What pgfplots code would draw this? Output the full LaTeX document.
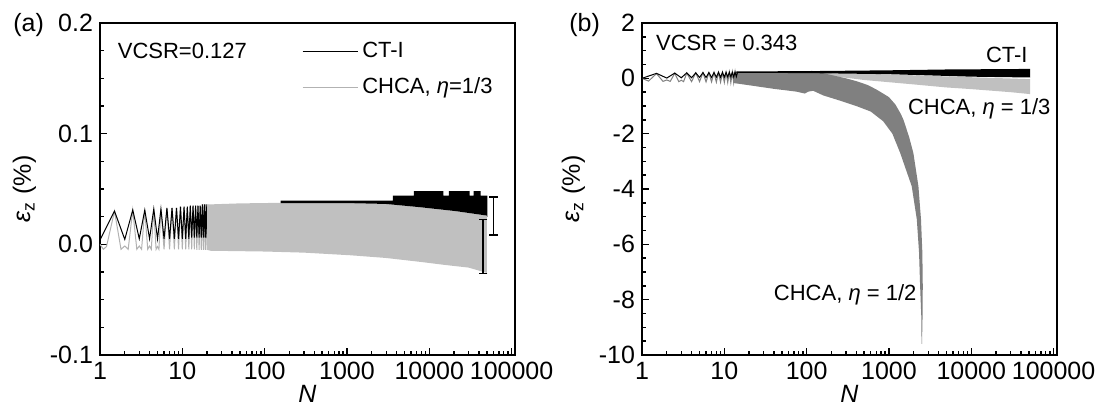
\documentclass[border=0pt]{standalone}
\usepackage{pgfplots}
\pgfplotsset{compat=1.18}
\usepackage{fontspec}
\setmainfont{Liberation Sans}
\definecolor{ltgray}{RGB}{192,192,192}
\definecolor{osgray}{RGB}{178,178,178}
\definecolor{dkgray}{RGB}{128,128,128}
\newcommand{\ft}{\fontsize{12.5}{14}\selectfont}
\newcommand{\fa}{\fontsize{11}{13}\selectfont}
\begin{document}
\begin{tikzpicture}
\path[use as bounding box] (-50pt,-31pt) rectangle (502pt,177.5pt);
\begin{axis}[
  scale only axis, width=207.5pt, height=166pt,
  xmode=log, xmin=1, xmax=110000,
  xtick={1,10,100,1000,10000,100000},
  xticklabels={1,10,100,1000,10000,100000},
  minor xtick={2,3,4,5,6,7,8,9,20,30,40,50,60,70,80,90,200,300,400,500,600,700,800,900,2000,3000,4000,5000,6000,7000,8000,9000,20000,30000,40000,50000,60000,70000,80000,90000},
  xtick pos=bottom, ytick pos=left,
  tick align=inside,
  axis line style={line width=1pt},
  major tick style={black, line width=0.7pt},
  minor tick style={black, line width=0.7pt},
  major tick length=3.5pt, minor tick length=2pt,
  tick label style={font=\ft},
  label style={font=\ft},
  xlabel={\textit{N}},
  ylabel={\textit{ε}\textsubscript{z} (\%)},
  xlabel style={yshift=4pt},
  minor y tick num=3,
  ymin=-0.1, ymax=0.2,
  ytick={-0.1,0,0.1,0.2}, yticklabels={-0.1,0.0,0.1,0.2},
  legend style={at={(0.486,0.955)}, anchor=north west, draw=none, fill=none,
    font=\fa, row sep=4.5pt, inner sep=0pt},
  legend cell align=left,
  legend image code/.code={\draw[#1] (0pt,0pt) -- (27.5pt,0pt);},
]
% grey oscillation line (CHCA eta=1/3)
\addplot[osgray, line width=0.5pt, forget plot] coordinates {
(1,0)(1.1,-0.0045)(1.2,-0.002)(1.5,0.030)(1.8,-0.0045)(2,-0.0015)(2.2,-0.0045)(2.5,0.031)(2.8,-0.0045)(3,-0.0015)(3.2,-0.0045)(3.5,0.031)(3.8,-0.0045)(4,-0.0015)(4.2,-0.0045)(4.5,0.032)(4.8,-0.0045)(5,-0.002)(5.2,-0.0045)(5.5,0.032)(6,-0.0045)(6.5,0.033)(7,-0.0045)(7.5,0.033)(8,-0.0045)(8.5,0.033)(9,-0.0045)(9.5,0.034)(10,-0.0045)(10.5,0.034)(11,-0.0045)(11.5,0.034)(12,-0.0045)(12.5,0.035)(13,-0.0045)(13.5,0.035)(14,-0.0045)(14.5,0.035)(15,-0.005)(15.5,0.035)(16,-0.005)(16.5,0.035)(17,-0.005)(17.5,0.036)(18,-0.005)(18.5,0.036)(19,-0.005)(19.5,0.036)(20,-0.005)(20.5,0.036)
};
% black oscillation line (CT-I)
\addplot[black, line width=0.5pt, forget plot] coordinates {
(1,0.004)(1.5,0.030)(2,0.0045)(2.5,0.031)(3,0.005)(3.5,0.031)(4,0.005)(4.5,0.032)(5,0.005)(5.5,0.032)(6,0.005)(6.5,0.033)(7,0.005)(7.5,0.033)(8,0.005)(8.5,0.033)(9,0.005)(9.5,0.034)(10,0.005)(10.5,0.034)(11,0.005)(11.5,0.034)(12,0.005)(12.5,0.035)(13,0.006)(13.5,0.035)(14,0.006)(14.5,0.035)(15,0.006)(15.5,0.035)(16,0.006)(16.5,0.035)(17,0.006)(17.5,0.036)(18,0.006)(18.5,0.036)(19,0.006)(19.5,0.036)(20,0.006)
};
% grey band (CHCA eta=1/3)
\addplot[fill=ltgray, draw=none, forget plot] coordinates {
(20,0.036)(50,0.037)(156,0.0375)(1110,0.0372)(2960,0.0365)(7880,0.0335)(21000,0.030)(50000,0.026)
(50000,-0.0258)(30000,-0.021)(15000,-0.0185)(7880,-0.0159)(2960,-0.0123)(1110,-0.0099)(300,-0.0075)(100,-0.0065)(22,-0.0058)(20,-0.005)
} -- cycle;
% black band (CT-I)
\addplot[fill=black, draw=none, forget plot] coordinates {
(156,0.0372)(156,0.0395)(3600,0.0395)(3600,0.044)(6500,0.044)(6500,0.048)(14800,0.048)(14800,0.044)(17300,0.044)(17300,0.048)(31000,0.048)(31000,0.044)(34500,0.044)(34500,0.048)(42000,0.048)(42000,0.044)(50800,0.044)(50800,0.0245)
(50000,0.026)(21000,0.030)(7880,0.0335)(2960,0.0365)(1110,0.0372)
} -- cycle;
% range bars
\addplot[black, line width=0.8pt, mark=-, mark size=2.2pt, forget plot]
  coordinates {(60000,0.0087)(60000,0.0428)};
\addplot[black, line width=0.8pt, mark=-, mark size=2.2pt, forget plot]
  coordinates {(45000,-0.0263)(45000,0.0225)};
\addlegendimage{black, line width=0.6pt}
\addlegendentry{CT-I}
\addlegendimage{osgray, line width=0.6pt}
\addlegendentry{CHCA, \textit{η}=1/3}
\node[anchor=west, font=\fa, inner sep=0pt] at (rel axis cs:0.042,0.915) {VCSR=0.127};
\end{axis}
\node[anchor=west, font=\ft, inner sep=0pt] at (-43.5pt,165pt) {(a)};
\node[anchor=west, font=\ft, inner sep=0pt] at (234.5pt,165pt) {(b)};
\begin{axis}[at={(271pt,0pt)},
  scale only axis, width=207.5pt, height=166pt,
  xmode=log, xmin=1, xmax=110000,
  xtick={1,10,100,1000,10000,100000},
  xticklabels={1,10,100,1000,10000,100000},
  minor xtick={2,3,4,5,6,7,8,9,20,30,40,50,60,70,80,90,200,300,400,500,600,700,800,900,2000,3000,4000,5000,6000,7000,8000,9000,20000,30000,40000,50000,60000,70000,80000,90000},
  xtick pos=bottom, ytick pos=left,
  tick align=inside,
  axis line style={line width=1pt},
  major tick style={black, line width=0.7pt},
  minor tick style={black, line width=0.7pt},
  major tick length=3.5pt, minor tick length=2pt,
  tick label style={font=\ft},
  label style={font=\ft},
  xlabel={\textit{N}},
  ylabel={\textit{ε}\textsubscript{z} (\%)},
  xlabel style={yshift=4pt},
  minor y tick num=3,
  ymin=-10, ymax=2,
  ytick={-10,-8,-6,-4,-2,0,2}, yticklabels={-10,-8,-6,-4,-2,0,2},
]
% light grey band (CHCA eta=1/3)
\addplot[fill=ltgray, draw=none] coordinates {
(100,0.19)(300,0.18)(1000,0.14)(5000,0.07)(10000,0.04)(52000,-0.03)
(52000,-0.57)(30000,-0.5)(10000,-0.39)(5000,-0.33)(2000,-0.22)(1000,-0.14)(500,-0.06)(250,0.05)(150,0.13)(100,0.18)
} -- cycle;
% dark grey oscillation line (CHCA eta=1/2)
\addplot[dkgray, line width=0.5pt] coordinates {
(1,0)(1.2,-0.1)(1.5,0.17)(1.8,-0.11)(2,-0.06)(2.2,-0.11)(2.5,0.18)(2.8,-0.12)(3,-0.07)(3.2,-0.12)(3.5,0.19)(4,-0.12)(4.5,0.2)(5,-0.12)(5.5,0.2)(6,-0.13)(6.5,0.2)(7,-0.13)(7.5,0.21)(8,-0.14)(8.5,0.21)(9,-0.14)(9.5,0.21)(10,-0.15)(10.5,0.21)(11,-0.15)(11.5,0.22)(12,-0.16)(12.5,0.22)(13,-0.16)(13.5,0.22)(14,-0.17)
};
% dark grey band (CHCA eta=1/2)
\addplot[fill=dkgray, draw=none] coordinates {
(13,0.22)(30,0.22)(60,0.21)(90,0.2)(115,0.27)(140,0.22)(200,0.12)(300,0.0)(400,-0.1)(550,-0.24)(700,-0.4)(850,-0.55)(1000,-0.68)(1200,-0.95)(1400,-1.3)(1500,-1.5)(1750,-2.1)(1980,-2.7)(2280,-3.9)(2450,-5.1)(2545,-6.3)(2575,-7.5)(2560,-8.6)(2520,-9.6)
(2490,-9.6)(2470,-8.6)(2390,-7.5)(2320,-6.3)(2180,-5.1)(1890,-3.9)(1370,-2.7)(1100,-2.0)(850,-1.55)(600,-1.2)(400,-1.0)(250,-0.8)(160,-0.62)(120,-0.45)(105,-0.48)(95,-0.55)(75,-0.48)(40,-0.38)(20,-0.25)(13,-0.17)
} -- cycle;
% black oscillation line (CT-I)
\addplot[black, line width=0.5pt] coordinates {
(1,0)(1.5,0.18)(2,0.01)(2.5,0.19)(3,0.02)(3.5,0.2)(4,0.02)(4.5,0.2)(5,0.03)(5.5,0.21)(6,0.03)(6.5,0.21)(7,0.03)(7.5,0.21)(8,0.04)(8.5,0.22)(9,0.04)(9.5,0.22)(10,0.04)(10.5,0.22)(11,0.05)(11.5,0.22)(12,0.05)(12.5,0.22)(13,0.05)(13.5,0.23)(14,0.06)(14.5,0.23)
};
% black band (CT-I)
\addplot[fill=black, draw=none] coordinates {
(14,0.2)(14,0.25)(100,0.26)(1000,0.29)(5000,0.32)(52000,0.34)
(52000,0.03)(10000,0.06)(1000,0.15)(100,0.19)(14,0.2)
} -- cycle;
\node[anchor=west, font=\fa, inner sep=0pt] at (rel axis cs:0.033,0.939) {VCSR = 0.343};
\node[anchor=west, font=\fa, inner sep=0pt] at (rel axis cs:0.828,0.904) {CT-I};
\node[anchor=west, font=\fa, inner sep=0pt] at (rel axis cs:0.64,0.743) {CHCA, \textit{η} = 1/3};
\node[anchor=west, font=\fa, inner sep=0pt] at (rel axis cs:0.317,0.181) {CHCA, \textit{η} = 1/2};
\end{axis}
\end{tikzpicture}
\end{document}
